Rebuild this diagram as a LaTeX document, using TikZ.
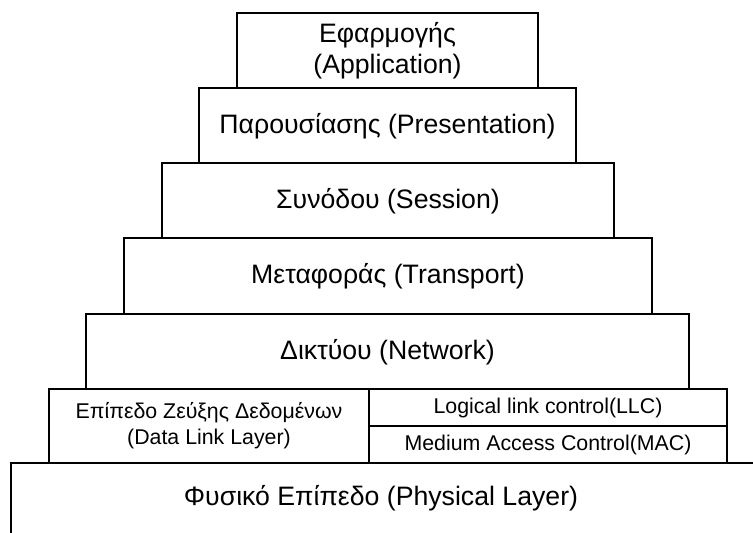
\documentclass[tikz,border=0pt]{standalone}
\usepackage{fontspec}
\setmainfont{Liberation Sans}
\usetikzlibrary{positioning}

\tikzset{every picture/.style={line width=1pt}}
\tikzset{
  layertext/.style={anchor=center, inner sep=0.75pt, align=center, font=\fontsize{20}{23}\selectfont},
  subtext/.style={anchor=center, inner sep=0.75pt, align=center, font=\fontsize{16}{19.5}\selectfont}
}

\begin{document}
\begin{tikzpicture}[x=0.75pt,y=0.75pt,yscale=-1,xscale=1]
\useasboundingbox (0,0) rectangle (753,532);
\clip (0,0) rectangle (753,532);

%Shape: Rectangle [application]
    \draw   (237,13) rectangle (538,88) ;
%Shape: Rectangle [presentation]
    \draw   (199,88) rectangle (576,163) ;
%Shape: Rectangle [session]
    \draw   (162,163) rectangle (614,238) ;
%Shape: Rectangle [transport]
    \draw   (124,238) rectangle (652,314) ;
%Shape: Rectangle [network]
    \draw   (86,314) rectangle (689,389) ;
%Shape: Rectangle [data link]
    \draw   (49,389) rectangle (727,463) ;
%Straight Lines [data link split]
    \draw   (369,389) -- (369,463) ;
    \draw   (369,426) -- (727,426) ;
%Shape: Rectangle [physical]
    \draw   (11,463) rectangle (765,545) ;

% Text Node
    \node (app) [layertext] at (387.5,50.5) {Εφαρμογής\\(Application)};
% Text Node
    \node (pres) [layertext] at (387.5,126) {Παρουσίασης (Presentation)};
% Text Node
    \node (sess) [layertext] at (388,201) {Συνόδου (Session)};
% Text Node
    \node (trans) [layertext] at (388,276.5) {Μεταφοράς (Transport)};
% Text Node
    \node (net) [layertext] at (387.5,352) {Δικτύου (Network)};
% Text Node
    \node (dll) [subtext] at (209,426) {Επίπεδο Ζεύξης Δεδομένων\\(Data Link Layer)};
% Text Node
    \node (llc) [subtext] at (548,407.5) {Logical link control(LLC)};
% Text Node
    \node (mac) [subtext] at (548,444.5) {Medium Access Control(MAC)};
% Text Node
    \node (phys) [layertext] at (381,498.5) {Φυσικό Επίπεδο (Physical Layer)};

\end{tikzpicture}
\end{document}
